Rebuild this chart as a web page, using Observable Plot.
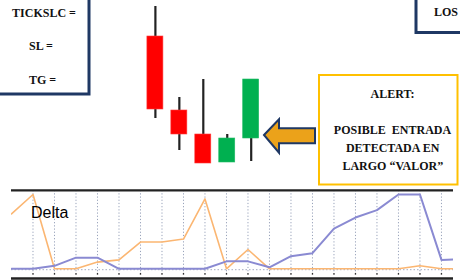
<!DOCTYPE html>
<html><head><meta charset="utf-8">
<script src="https://cdn.jsdelivr.net/npm/d3@7"></script>
<script src="https://cdn.jsdelivr.net/npm/@observablehq/plot@0.6"></script>
<style>
html,body{margin:0;padding:0;background:#fff;}
#chart{position:relative;width:460px;height:280px;overflow:hidden;background:#fff;}
#chart svg{display:block;}
#top{position:absolute;left:0;top:0;}
#bottom{position:absolute;left:0;top:186px;}
#overlay{position:absolute;left:0;top:0;pointer-events:none;}
.lab{font-family:"Liberation Serif","Times New Roman",serif;font-weight:bold;font-size:12px;fill:#111;}
.delta{font-family:"Liberation Sans",Arial,sans-serif;font-size:16px;fill:#000;}
</style></head><body>
<div id="chart">
  <div id="top"></div>
  <div id="bottom"></div>
  <svg id="overlay" width="460" height="280">
    <rect x="-5" y="-5" width="94" height="99" fill="none" stroke="#1f3864" stroke-width="3"/>
    <rect x="416" y="-5" width="60" height="37.5" fill="none" stroke="#1f3864" stroke-width="3"/>
    <rect x="319" y="75" width="138.5" height="109.5" fill="none" stroke="#ffc000" stroke-width="2"/>
    <path d="M264,135 L279,119.3 L279,128.3 L315,128.3 L315,143.3 L279,143.3 L279,152.7 Z" fill="#eba21a" stroke="#1f3864" stroke-width="2" stroke-linejoin="miter"/>
    <text class="lab" x="44" y="17" text-anchor="middle">TICKSLC =</text>
    <text class="lab" x="41" y="49.5" text-anchor="middle">SL =</text>
    <text class="lab" x="42.5" y="83.5" text-anchor="middle">TG =</text>
    <text class="lab" x="434" y="15.5">LOS</text>
    <text class="lab" x="392.5" y="97.5" text-anchor="middle">ALERT:</text>
    <text class="lab" x="392.5" y="134" text-anchor="middle" style="word-spacing:3px">POSIBLE ENTRADA</text>
    <text class="lab" x="392.7" y="151.7" text-anchor="middle">DETECTADA EN</text>
    <text class="lab" x="392.8" y="170" text-anchor="middle">LARGO “VALOR”</text>
    <text class="delta" x="31" y="218">Delta</text>
  </svg>
</div>
<script>
// Candlestick data (price units)
const candleIndex = [0, 1, 2, 3, 4];
const candleOpen  = [164, 90, 66, 38, 62];
const candleHigh  = [194, 103, 121, 66, 121];
const candleLow   = [82, 50, 37, 38, 39];
const candleClose = [91, 66, 37, 62, 121];

// Delta panel data
const deltaIndex  = [0,1,2,3,4,5,6,7,8,9,10,11,12,13,14,15,16,17,18,19,20,21];
const deltaOrange = [74,100,0,0,9,12,36,36,40,94,0,26,0,0,0,0,0,0,0,4,0,0];
const deltaPurple = [0,0,4,15,15,0,0,0,0,0,10,10,2,17,21,54,69,79,100,100,12,13];
const gridIndex   = [1,2,3,4,5,6,7,8,9,10,11,12,13,14,15,16,17,18,19,20];
const deltaDomain = [-13, 105.5];

const candles = candleIndex.map((i, k) => ({
  i, open: candleOpen[k], high: candleHigh[k], low: candleLow[k], close: candleClose[k],
  up: candleClose[k] >= candleOpen[k]
}));
const half = 0.334;

const topPlot = Plot.plot({
  width: 460, height: 186,
  marginLeft: 154.9, marginRight: 209.3, marginTop: 0, marginBottom: 0,
  style: {background: "transparent"},
  x: {type: "linear", domain: [0, 4], axis: null},
  y: {domain: [14, 200], axis: null},
  marks: [
    Plot.ruleX(candles, {x: "i", y1: "low", y2: "high", stroke: "#222", strokeWidth: 2.2}),
    Plot.rect(candles.filter(d => !d.up), {x1: d => d.i - half, x2: d => d.i + half, y1: "open", y2: "close", fill: "#ff0000", stroke: "#ff3b3b", strokeWidth: 0.6}),
    Plot.rect(candles.filter(d => d.up), {x1: d => d.i - half, x2: d => d.i + half, y1: "open", y2: "close", fill: "#00b050", stroke: "#22bb66", strokeWidth: 0.6})
  ]
});
document.getElementById("top").appendChild(topPlot);

const orange = deltaIndex.map((i, k) => ({i, v: deltaOrange[k]}));
const purple = deltaIndex.map((i, k) => ({i, v: deltaPurple[k]}));

const bottomPlot = Plot.plot({
  width: 460, height: 94,
  marginLeft: 11, marginRight: 7, marginTop: 3.9, marginBottom: 2.04,
  style: {background: "transparent"},
  x: {type: "linear", domain: [0, 20.56], axis: null},
  y: {domain: deltaDomain, axis: null},
  marks: [
    Plot.ruleX(gridIndex, {x: d => d, y1: -4, y2: 104, stroke: "#98a2ba", strokeWidth: 1, strokeDasharray: "1.2,2"}),
    Plot.ruleX(gridIndex, {x: d => d, y1: -6.2, y2: -8.6, stroke: "#333", strokeWidth: 1.3}),
    Plot.ruleY([-1.2], {stroke: "#a4abc2", strokeWidth: 1, strokeDasharray: "1.5,2"}),
    Plot.line(orange, {x: "i", y: "v", stroke: "#fbb672", strokeWidth: 1.6, clip: true}),
    Plot.line(purple, {x: "i", y: "v", stroke: "#8a8ad2", strokeWidth: 2, clip: true}),
    Plot.ruleY(deltaDomain, {stroke: "#222", strokeWidth: 2.4})
  ]
});
document.getElementById("bottom").appendChild(bottomPlot);
</script>
</body></html>
